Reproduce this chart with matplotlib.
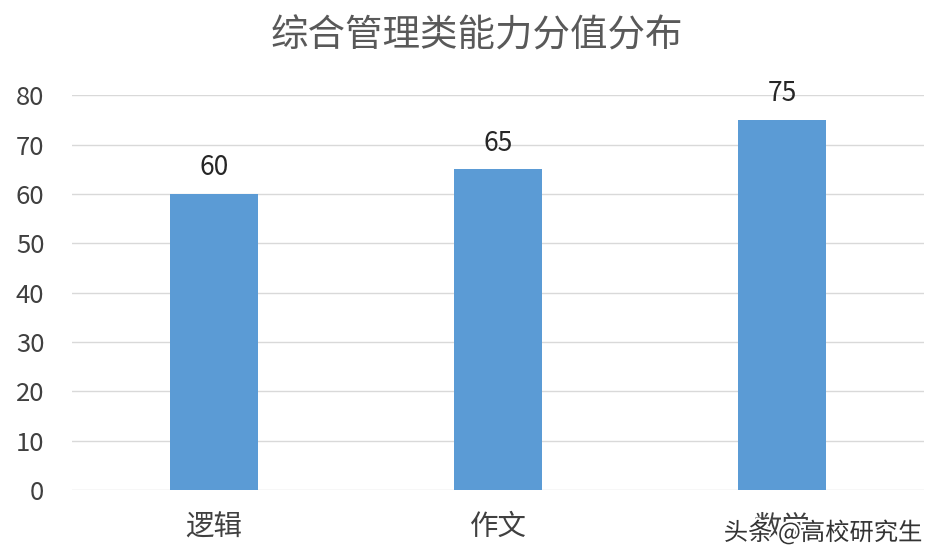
import matplotlib
matplotlib.use("Agg")
import matplotlib.pyplot as plt
import matplotlib.patheffects as pe

plt.rcParams['font.family'] = ['Noto Sans CJK SC', 'DejaVu Sans']

# dados
categorias = ["逻辑", "作文", "数学"]
valores = [60, 65, 75]
yticks = [0, 10, 20, 30, 40, 50, 60, 70, 80]

fig = plt.figure(figsize=(9.38, 5.6), dpi=100)
ax = fig.add_axes([0.077, 0.125, 0.908, 0.705])

x = list(range(len(categorias)))
ax.bar(x, valores, width=0.31, color="#5B9BD5", zorder=3)

for xi, v in zip(x, valores):
    ax.annotate(str(v), (xi, v), xytext=(0, 9), textcoords="offset points",
                ha="center", va="bottom", fontsize=19, color="#262626")

ax.set_xlim(-0.5, 2.5)
ax.set_ylim(0, 80)
ax.set_yticks(yticks)
ax.set_xticks(x)
ax.set_xticklabels(categorias, fontsize=20.5, color="#404040")
ax.tick_params(axis="y", labelsize=18.5, labelcolor="#404040", length=0, pad=20)
ax.tick_params(axis="x", length=0, pad=16)
ax.grid(axis="y", color="#D9D9D9", linewidth=1, zorder=0)
for s in ax.spines.values():
    s.set_visible(False)

fig.text(0.508, 0.935, "综合管理类能力分值分布", ha="center", va="center",
         fontsize=27, color="#595959")

# marca d'agua
fig.text(0.983, 0.048, "头条 @高校研究生", ha="right", va="center", fontsize=17.5,
         color="#333333", path_effects=[pe.withStroke(linewidth=3, foreground="white")])

fig.savefig("out.png", dpi=100, facecolor="white")
